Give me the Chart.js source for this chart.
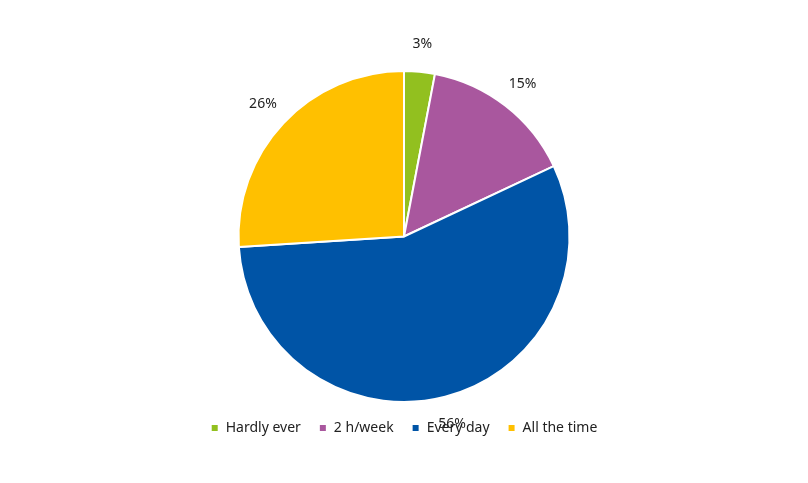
<!DOCTYPE html>
<html>
<head>
<meta charset="utf-8">
<script src="https://cdn.jsdelivr.net/npm/chart.js@4"></script>
<style>body{margin:0;background:#fff}</style>
</head>
<body>
<canvas id="c" width="808" height="483"></canvas>
<script>
const labels = ['Hardly ever', '2 h/week', 'Every day', 'All the time'];
const values = [3, 15, 56, 26];
const colors = ['#92C01F', '#A9579E', '#0054A6', '#FFC000'];

// draw percent labels outside each slice
const outLabels = {
  id: 'outLabels',
  afterDatasetsDraw(chart) {
    const ctx = chart.ctx;
    ctx.save();
    ctx.font = '14px "Noto Sans"';
    ctx.fillStyle = '#222';
    ctx.textAlign = 'center';
    ctx.textBaseline = 'middle';
    chart.getDatasetMeta(0).data.forEach((arc, i) => {
      const mid = (arc.startAngle + arc.endAngle) / 2;
      const r = arc.outerRadius + 28;
      ctx.fillText(values[i] + '%', arc.x + Math.cos(mid) * r, arc.y + Math.sin(mid) * r);
    });
    ctx.restore();
  }
};

new Chart(document.getElementById('c'), {
  type: 'pie',
  data: {
    labels: labels,
    datasets: [{ data: values, backgroundColor: colors, borderColor: '#fff', borderWidth: 2 }]
  },
  options: {
    responsive: false,
    animation: false,
    layout: { padding: { top: 70, bottom: 38 } },
    plugins: {
      tooltip: { enabled: false },
      legend: {
        position: 'bottom',
        labels: { boxWidth: 8, boxHeight: 8, padding: 18, color: '#222', font: { size: 14, family: '"Noto Sans"' } }
      }
    }
  },
  plugins: [outLabels]
});
</script>
</body>
</html>
